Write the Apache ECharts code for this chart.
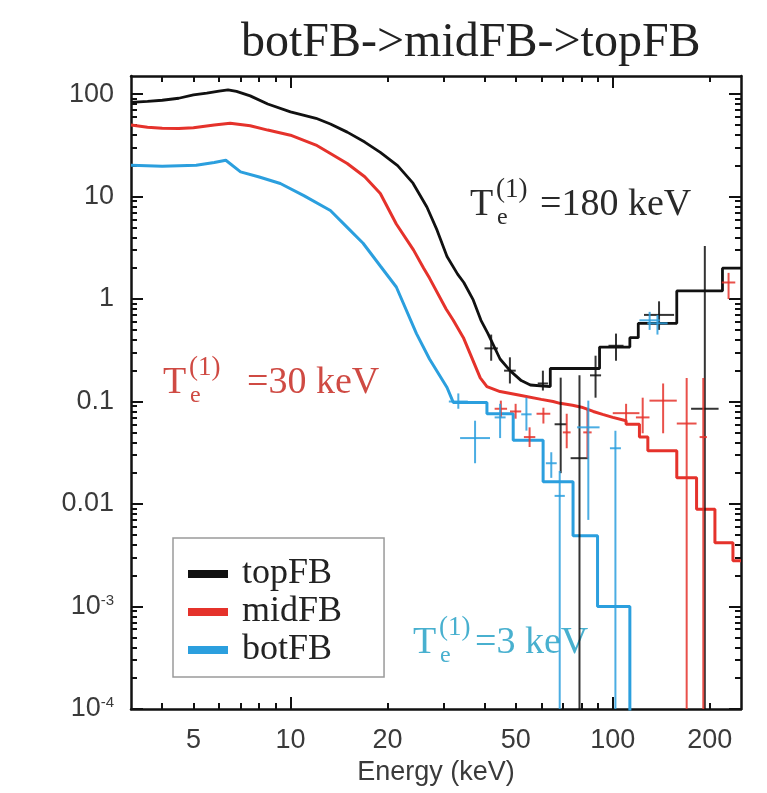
<!DOCTYPE html>
<html><head><meta charset="utf-8">
<script src="https://cdn.jsdelivr.net/npm/echarts@6/dist/echarts.min.js"></script>
<style>html,body{margin:0;padding:0;background:#fff}#c{width:767px;height:793px}</style>
</head><body><div id="c"></div>
<script>
// ---------- axis definitions ----------
const xRange = [3.2, 250];          // keV
const yRange = [1e-4, 150];         // counts
const xTickLabels = [5, 10, 20, 50, 100, 200];
const xMajorTicks = [10, 100];
const xMinorTicks = [4, 5, 6, 7, 8, 9, 20, 30, 40, 50, 60, 70, 80, 90, 200];
const yLabelExp = [-4, -3, -2, -1, 0, 1, 2];
const yLabelText = ['10{s|-4}', '10{s|-3}', '0.01', '0.1', '1', '10', '100'];

// ---------- model curves (fine-binned part: energy keV / value) ----------
const topSmoothE = [3.2, 3.6, 4.0, 4.5, 5.0, 5.5, 6.0, 6.4, 6.8, 7.5, 8.5, 10, 12, 13.3, 15, 17, 19, 21.5, 24, 26.5, 28.5, 30.6, 33, 34.5, 36.9, 39, 41, 44.7, 48, 52, 55.5];
const topSmoothY = [83, 85, 87, 91, 98, 102, 107, 110, 106, 96, 80, 67, 58, 51, 42.5, 34, 27, 20, 13.5, 7.9, 4.7, 2.6, 1.75, 1.45, 0.98, 0.62, 0.46, 0.26, 0.2, 0.16, 0.145];
const topBinEdges = [55.5, 64, 91, 113, 120, 158, 219, 250];
const topBinVals = [0.14, 0.21, 0.34, 0.42, 0.58, 1.2, 2.0];

const midSmoothE = [3.2, 3.6, 4.0, 4.5, 5.0, 5.8, 6.5, 7.5, 8.5, 10, 12, 13.3, 15, 17, 19, 21.3, 24.1, 25.9, 27, 30.4, 32, 34.4, 38.8, 40.7, 44.7, 51.5, 60, 65.3, 68.6, 75, 80, 87, 93, 100, 110];
const midSmoothY = [50, 47.5, 46.5, 46, 47, 50, 52, 49, 44.5, 39.7, 31.8, 26.3, 21, 15.6, 10.7, 5.4, 3.0, 2.0, 1.6, 0.8, 0.62, 0.42, 0.17, 0.14, 0.125, 0.115, 0.105, 0.1, 0.096, 0.092, 0.088, 0.08, 0.075, 0.07, 0.065];
const midBinEdges = [110, 121, 128.5, 158, 182, 207.5, 236, 250];
const midBinVals = [0.06, 0.045, 0.033, 0.018, 0.0089, 0.0042, 0.0028];

const botSmoothE = [3.2, 4.0, 5.1, 5.8, 6.3, 7.0, 8.0, 9.3, 11, 13.3, 15, 16.8, 19, 21.3, 24.6, 27, 30.6, 32];
const botSmoothY = [20.2, 19.8, 20.2, 21.5, 22.6, 17.4, 15.5, 13.4, 10.2, 7.3, 5.0, 3.5, 2.1, 1.31, 0.46, 0.26, 0.137, 0.098];
const botBinEdges = [32, 40.7, 49.1, 60.8, 75.3, 89.7, 113, 250];
const botBinVals = [0.098, 0.076, 0.042, 0.0165, 0.0049, 0.001, 0];

// ---------- data points: [E low, E high, value, value low, value high] ----------
const topPts = [
  [40, 44, 0.33, 0.25, 0.45],
  [46, 50, 0.2, 0.15, 0.27],
  [58.5, 63, 0.15, 0.128, 0.2],
  [66, 72, 0.06, 0.02, 0.171],
  [74, 84, 0.028, 0, 0.18],
  [85, 92, 0.18, 0.109, 0.28],
  [97, 108, 0.35, 0.25, 0.46],
  [125, 155, 0.7, 0.5, 0.95],
  [175, 213, 0.085, 0, 3.3]
];
const midPts = [
  [43, 47, 0.085, 0.07, 0.102],
  [48, 52, 0.08, 0.068, 0.095],
  [53, 57.5, 0.045, 0.036, 0.056],
  [58, 64, 0.076, 0.061, 0.087],
  [70, 74, 0.05, 0.035, 0.076],
  [81, 86, 0.05, 0.028, 0.087],
  [100, 121, 0.077, 0.061, 0.095],
  [118, 130, 0.07, 0.049, 0.109],
  [130, 158, 0.102, 0.049, 0.15],
  [158, 182, 0.061, 0, 0.17],
  [186, 196, 0.045, 0, 0.17],
  [218, 240, 1.45, 1.0, 1.8]
];
const botPts = [
  [31, 35.5, 0.1, 0.085, 0.12],
  [33.6, 41.6, 0.044, 0.025, 0.065],
  [43, 46.5, 0.07, 0.044, 0.095],
  [52, 56, 0.075, 0.052, 0.109],
  [62, 67, 0.025, 0.018, 0.032],
  [66, 71, 0.012, 0, 0.021],
  [77.5, 91, 0.056, 0.007, 0.102],
  [98, 106, 0.035, 0, 0.052],
  [121, 140, 0.62, 0.5, 0.75],
  [128, 148, 0.58, 0.45, 0.7]
];

const names = ['topFB', 'midFB', 'botFB'];
const colors = ['#111111', '#e5322b', '#2b9fde'];

// ---------- helpers (log10 space) ----------
const L = Math.log10;
const yFloor = L(yRange[0]) - 1;
const ly = v => v > 0 ? L(v) : yFloor;

function modelData(sE, sY, edges, vals) {
  const d = sE.map((e, i) => [L(e), ly(sY[i])]);
  vals.forEach((v, i) => { d.push([L(edges[i]), ly(v)]); d.push([L(edges[i + 1]), ly(v)]); });
  return d;
}
function ptsData(pts) {
  return pts.map(p => [L(p[0]), L(p[1]), ly(p[2]), ly(p[3]), ly(p[4])]);
}
function crossRenderer(color) {
  return function (params, api) {
    const xlo = api.value(0), xhi = api.value(1), xc = (xlo + xhi) / 2;
    const a = api.coord([xlo, api.value(2)]), b = api.coord([xhi, api.value(2)]);
    const c = api.coord([xc, api.value(3)]), d = api.coord([xc, api.value(4)]);
    const style = { stroke: color, lineWidth: 2, opacity: 0.85 };
    return { type: 'group', children: [
      { type: 'line', shape: { x1: a[0], y1: a[1], x2: b[0], y2: b[1] }, style },
      { type: 'line', shape: { x1: c[0], y1: c[1], x2: d[0], y2: d[1] }, style }
    ] };
  };
}

const models = [
  modelData(topSmoothE, topSmoothY, topBinEdges, topBinVals),
  modelData(midSmoothE, midSmoothY, midBinEdges, midBinVals),
  modelData(botSmoothE, botSmoothY, botBinEdges, botBinVals)
];
const points = [ptsData(topPts), ptsData(midPts), ptsData(botPts)];

const minorY = [];
for (let n = -4; n <= 2; n++) for (let k = 2; k <= 9; k++) { const v = k * Math.pow(10, n); if (v < yRange[1]) minorY.push(L(v)); }

const axisLineStyle = { color: '#111', width: 2.5 };
const labelFont = { fontFamily: 'Liberation Sans, Arial, sans-serif', fontSize: 27, color: '#3a3a3a' };

function xAx(pos, ticks, len, withLabels, showLine) {
  return {
    type: 'value', position: pos, min: L(xRange[0]), max: L(xRange[1]),
    axisLine: { show: showLine, onZero: false, lineStyle: axisLineStyle },
    axisTick: { show: true, inside: true, length: len, customValues: ticks.map(L), lineStyle: { color: '#111', width: 2 } },
    axisLabel: withLabels ? Object.assign({ show: true, margin: 18, customValues: xTickLabels.map(L),
      formatter: v => String(Math.round(Math.pow(10, v))) }, labelFont) : { show: false },
    splitLine: { show: false },
    name: withLabels ? 'Energy (keV)' : '', nameLocation: 'middle', nameGap: 48,
    nameTextStyle: labelFont
  };
}
function yAx(pos, ticks, len, withLabels, showLine) {
  return {
    type: 'value', position: pos, min: L(yRange[0]), max: L(yRange[1]),
    axisLine: { show: showLine, onZero: false, lineStyle: axisLineStyle },
    axisTick: { show: true, inside: true, length: len, customValues: ticks, lineStyle: { color: '#111', width: 2 } },
    axisLabel: withLabels ? Object.assign({ show: true, margin: 17, customValues: yLabelExp,
      formatter: v => yLabelText[yLabelExp.indexOf(Math.round(v))],
      rich: { s: { fontSize: 15, verticalAlign: 'top', color: '#3a3a3a', fontFamily: 'Liberation Sans, Arial, sans-serif' } } }, labelFont) : { show: false },
    splitLine: { show: false }
  };
}

const series = [];
[0, 1, 2].forEach(i => {
  series.push({
    name: names[i], type: 'line', data: models[i], showSymbol: false, symbol: 'none',
    color: colors[i], lineStyle: { color: colors[i], width: i === 0 ? 2.8 : 3 },
    xAxisIndex: 0, yAxisIndex: 0, clip: true, z: 3 - i, animation: false
  });
});
[0, 1, 2].forEach(i => {
  series.push({
    name: names[i] + ' data', type: 'custom', data: points[i], renderItem: crossRenderer(colors[i]),
    encode: { x: [0, 1], y: [2, 3, 4] }, xAxisIndex: 0, yAxisIndex: 0, clip: true, z: 5, animation: false
  });
});

function teLabel(x, y, eqX, value, color) {
  const f = 'Liberation Serif, Times New Roman, serif';
  return { type: 'group', children: [
    { type: 'text', x: x, y: y, style: { text: 'T', font: '38px ' + f, fill: color, verticalAlign: 'middle' } },
    { type: 'text', x: x + 26, y: y - 15, style: { text: '(1)', font: '27px ' + f, fill: color, verticalAlign: 'middle' } },
    { type: 'text', x: x + 27, y: y + 13, style: { text: 'e', font: '24px ' + f, fill: color, verticalAlign: 'middle' } },
    { type: 'text', x: eqX, y: y, style: { text: '=' + value + ' keV', font: '38px ' + f, fill: color, verticalAlign: 'middle' } }
  ] };
}

const chart = echarts.init(document.getElementById('c'), null, { renderer: 'canvas' });
chart.setOption({
  animation: false,
  backgroundColor: '#fff',
  title: { text: 'botFB->midFB->topFB', left: 236, top: 14,
    textStyle: { fontFamily: 'Liberation Serif, Times New Roman, serif', fontSize: 48, fontWeight: 'normal', color: '#222' } },
  grid: { left: 131, right: 26, top: 76, bottom: 84, containLabel: false },
  xAxis: [
    xAx('bottom', xMinorTicks, 6, true, true),
    xAx('bottom', xMajorTicks, 12, false, false),
    xAx('top', xMinorTicks, 6, false, true),
    xAx('top', xMajorTicks, 12, false, false)
  ],
  yAxis: [
    yAx('left', minorY, 6, true, true),
    yAx('left', yLabelExp, 12, false, false),
    yAx('right', minorY, 6, false, true),
    yAx('right', yLabelExp, 12, false, false)
  ],
  legend: {
    orient: 'vertical', left: 173, top: 538, selectedMode: false,
    data: names.map(n => ({ name: n, icon: 'rect' })),
    itemWidth: 40, itemHeight: 8, itemGap: 0,
    padding: [17, 42, 8, 15],
    borderColor: '#9a9a9a', borderWidth: 1.5, backgroundColor: '#fff',
    formatter: n => ' ' + n,
    textStyle: { fontFamily: 'Liberation Serif, Times New Roman, serif', fontSize: 36, color: '#222', lineHeight: 38 }
  },
  graphic: [
    teLabel(470, 205, 540, '180', '#2a2a2a'),
    teLabel(163, 383, 247, '30', '#cf4a43'),
    teLabel(413, 643, 475, '3', '#48b0cf')
  ],
  series: series
});
</script></body></html>
